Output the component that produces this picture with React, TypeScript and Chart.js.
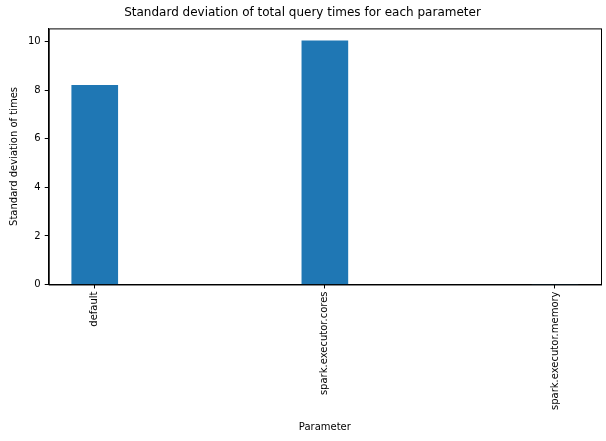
import { useEffect, useRef } from "react"
import { Chart, registerables } from "chart.js"

Chart.register(...registerables)

const categories = ["default", "spark.executor.cores", "spark.executor.memory"]
const stdValues = [8.2, 10.04, 0]
const yTicks = [0, 2, 4, 6, 8, 10]

const frame = {
  id: "frame",
  afterDatasetsDraw(chart: Chart) {
    const { ctx, chartArea } = chart
    ctx.save()
    ctx.strokeStyle = "#000"
    ctx.lineWidth = 1
    ctx.strokeRect(chartArea.left + 0.5, chartArea.top + 0.5, chartArea.width, chartArea.height)
    ctx.restore()
  },
}

export default function App() {
  const chartRef = useRef<HTMLCanvasElement>(null)

  useEffect(() => {
    document.body.style.margin = "0"
    if (!chartRef.current) return
    const font = { family: "DejaVu Sans", size: 10 }
    const chart = new Chart(chartRef.current, {
      type: "bar",
      data: {
        datasets: [
          {
            data: stdValues.map((v, i) => ({ x: i, y: v })),
            backgroundColor: "#1f77b4",
            barThickness: 46,
          },
        ],
      },
      options: {
        animation: false,
        responsive: false,
        layout: { padding: { left: 4, right: 5, top: 0, bottom: 4 } },
        plugins: {
          legend: { display: false },
          tooltip: { enabled: false },
          title: {
            display: true,
            text: "Standard deviation of total query times for each parameter",
            color: "#000",
            font: { family: "DejaVu Sans", size: 12, weight: "normal" },
            padding: { top: 6, bottom: 8 },
          },
        },
        scales: {
          x: {
            type: "linear",
            min: -0.2,
            max: 2.2,
            offset: false,
            afterBuildTicks: (axis) => {
              axis.ticks = categories.map((_, i) => ({ value: i }))
            },
            ticks: {
              color: "#000",
              font,
              minRotation: 90,
              maxRotation: 90,
              callback: (v) => categories[Number(v)] ?? "",
            },
            grid: { drawOnChartArea: false, offset: false, color: "#000", tickLength: 4 },
            border: { color: "#000" },
            title: { display: true, text: "Parameter", color: "#000", font, padding: { top: 8 } },
          },
          y: {
            min: 0,
            max: 10.55,
            afterBuildTicks: (axis) => {
              axis.ticks = yTicks.map((v) => ({ value: v }))
            },
            ticks: { color: "#000", font, padding: 4 },
            grid: { drawOnChartArea: false, color: "#000", tickLength: 4 },
            border: { color: "#000" },
            title: { display: true, text: "Standard deviation of times", color: "#000", font },
          },
        },
      },
      plugins: [frame],
    })
    return () => chart.destroy()
  }, [])

  return <canvas ref={chartRef} width={606} height={441} />
}
